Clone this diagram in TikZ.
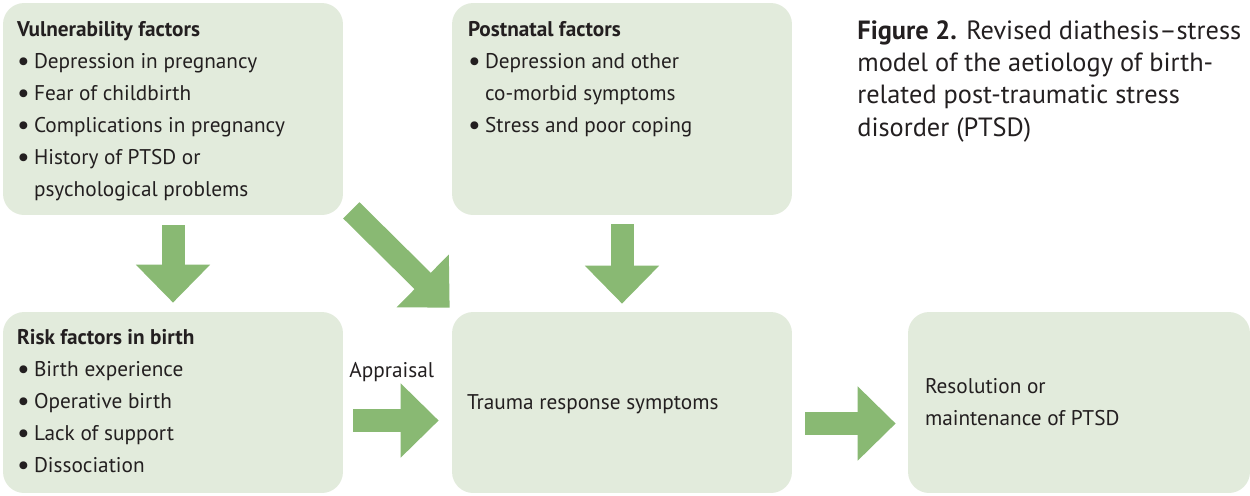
\documentclass[tikz,border=0pt]{standalone}
\usepackage{fontspec}
\setmainfont{PT Sans}
\usetikzlibrary{calc,positioning,arrows.meta}
\definecolor{boxgreen}{HTML}{E2EBDC}
\definecolor{arrowgreen}{HTML}{89B973}
\definecolor{inkgrey}{HTML}{231F20}
\newcommand{\itm}{\makebox[0.34cm][l]{\raisebox{-0.2ex}{\fontsize{16}{16}\selectfont\textbullet}}}
\newcommand{\gap}{\makebox[0.34cm][l]{}}

\begin{document}
\begin{tikzpicture}[x=0.02cm,y=-0.02cm,font=\fontsize{12.1}{18.2}\selectfont,text=inkgrey]

\tikzset{factorbox/.style={fill=boxgreen,draw=none,rounded corners=12pt,minimum width=6.8cm,inner sep=0pt},
boxtext/.style={align=left,inner sep=0pt,anchor=north west},
bigarrow/.style={draw=arrowgreen,line width=0.46cm,-{Triangle[length=0.76cm,width=1.44cm]}}}

\useasboundingbox (0,0) rectangle (1250,495);

% Boxes
\node[factorbox,minimum height=4.24cm] (vul) at (173,109) {};
\node[factorbox,minimum height=4.24cm] (post) at (622,109) {};
\node[factorbox,minimum height=3.62cm] (risk) at (173,402.5) {};
\node[factorbox,minimum height=3.62cm] (trauma) at (622,402.5) {};
\node[factorbox,minimum height=3.62cm,minimum width=6.84cm] (res) at (1079,402.5) {};

% Box texts
\node[boxtext] (vultxt) at ($(vul.north west)+(14,18)$) {\textbf{Vulnerability factors}\\
\itm Depression in pregnancy\\ \itm Fear of childbirth\\ \itm Complications in pregnancy\\
\itm History of PTSD or\\ \gap psychological problems};
\node[boxtext] (posttxt) at ($(post.north west)+(16,18)$) {\textbf{Postnatal factors}\\
\itm Depression and other\\ \gap co-morbid symptoms\\ \itm Stress and poor coping};
\node[boxtext] (risktxt) at ($(risk.north west)+(14,17)$) {\textbf{Risk factors in birth}\\
\itm Birth experience\\ \itm Operative birth\\ \itm Lack of support\\ \itm Dissociation};
\node[boxtext,anchor=west] (traumatxt) at ($(trauma.west)+(15,2)$) {Trauma response symptoms};
\node[boxtext,anchor=west] (restxt) at ($(res.west)+(17,0)$) {Resolution or\\ maintenance of PTSD};

% Caption
\node[boxtext,font=\fontsize{15}{18.4}\selectfont] (caption) at (857,20) {\textbf{Figure 2.} Revised diathesis--stress\\
model of the aetiology of birth-\\ related post-traumatic stress\\ disorder (PTSD)};

% Arrows
\draw[bigarrow] ($(vul.south)+(0,10)$) -- ($(risk.north)+(0,-9)$);
\draw[bigarrow] ($(post.south)+(0,9)$) -- ($(trauma.north)+(0,-8)$);
\draw[bigarrow] ($(vul.south east)+(8,-5)$) -- ($(trauma.north west)+(-2,-4)$);
\draw[bigarrow] ($(risk.east)+(10,18)$) -- ($(trauma.west)+(-13,18)$) node[pos=0.45,above=12pt,text=inkgrey] (appraisal) {Appraisal};
\draw[bigarrow] ($(trauma.east)+(13,21)$) -- ($(res.west)+(-12,21)$);

\end{tikzpicture}
\end{document}
